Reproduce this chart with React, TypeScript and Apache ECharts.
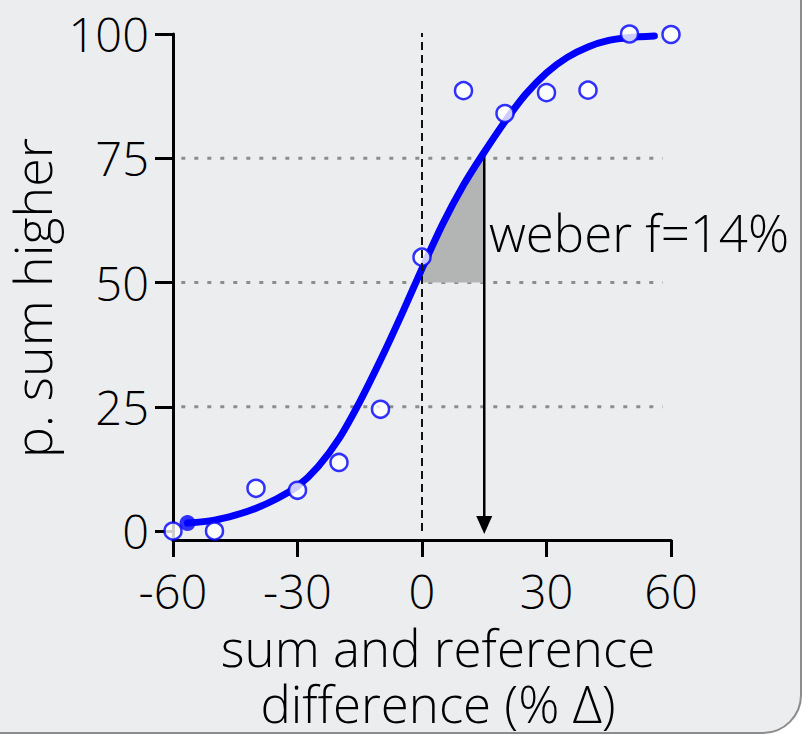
import React, { useEffect, useRef } from "react";
import * as echarts from "echarts";

const FONT = "'Open Sans', 'Liberation Sans', sans-serif";

// observed proportions (open circles)
const obsX = [-60, -50, -40, -30, -20, -10, 0, 10, 20, 30, 40, 50, 60];
const obsY = [0, 0, 8.6, 8.2, 13.8, 24.5, 55.1, 88.6, 84.0, 88.2, 88.7, 100, 99.9];

// fitted psychometric curve
const fitX = [-56.5, -50, -45, -40, -35, -30, -25, -20, -15, -10, -5, 0, 5, 10, 14.5, 20, 25, 30, 35, 40, 45, 50, 56];
const fitY = [1.6, 2.2, 3.2, 4.6, 6.5, 9.0, 13.0, 18.6, 26.0, 34.4, 43.4, 52.8, 61.8, 69.6, 75.6, 82.4, 87.9, 92.2, 95.3, 97.4, 98.7, 99.3, 99.6];

// filled start point
const startPt = [-56.5, 1.6];

// shaded weber triangle
const shadeX = [0, 0, 5, 10, 14.5, 14.8, 14.8];
const shadeY = [50, 52.8, 61.8, 69.6, 75.6, 75.6, 50];

// reference lines
const refLevels = [25, 50, 75];
const refSpan = [-58, 58];
const vRefX = 0;
const vRefSpan = [0, 101.2];

// arrow
const arrowX = 15;
const arrowTop = 75.6;
const arrowHeadY = 1.2;

const xTicks = [-60, -30, 0, 30, 60];
const yTicks = [0, 25, 50, 75, 100];

const weberText = "weber f=14%";
const xName = "sum and reference\ndifference (% \u0394)";
const yName = "p. sum higher";

export default function App() {
  const ref = useRef<HTMLDivElement>(null);
  useEffect(() => {
    const chart = echarts.init(ref.current!, null, { renderer: "svg" });
    const blue = "#0000ff";
    const series: any[] = [];
    refLevels.forEach((l) => {
      series.push({
        type: "line",
        data: [
          [refSpan[0], l],
          [refSpan[1], l],
        ],
        symbol: "none",
        silent: true,
        z: 1,
        lineStyle: { color: "#8d8d8d", width: 3, type: [4, 9] },
      });
    });
    series.push({
      type: "custom",
      data: [[0, 50]],
      silent: true,
      z: 2,
      renderItem: (_p: any, api: any) => ({
        type: "polygon",
        shape: { points: shadeX.map((x, i) => api.coord([x, shadeY[i]])) },
        style: { fill: "#b3b5b5" },
      }),
    });
    series.push({
      type: "line",
      data: [
        { value: [arrowX, arrowTop], symbol: "none" },
        { value: [arrowX, arrowHeadY], symbol: "triangle", symbolSize: [16, 18], symbolRotate: 180 },
      ],
      showSymbol: true,
      silent: true,
      z: 3,
      lineStyle: { color: "#000", width: 2.5 },
      itemStyle: { color: "#000" },
    });
    series.push({
      type: "line",
      data: fitX.map((x, i) => [x, fitY[i]]),
      smooth: 0.3,
      symbol: "none",
      silent: true,
      z: 4,
      lineStyle: { color: blue, width: 7, cap: "round" },
    });
    series.push({
      type: "scatter",
      data: [startPt],
      symbolSize: 16,
      silent: true,
      z: 5,
      itemStyle: { color: blue },
    });
    series.push({
      type: "scatter",
      data: obsX.map((x, i) => [x, obsY[i]]),
      symbolSize: 17,
      clip: false,
      silent: true,
      z: 6,
      itemStyle: { color: "#ffffff", borderColor: blue, borderWidth: 2.5 },
    });
    series.push({
      type: "line",
      data: [
        [vRefX, vRefSpan[0]],
        [vRefX, vRefSpan[1]],
      ],
      symbol: "none",
      silent: true,
      z: 7,
      lineStyle: { color: "#111", width: 2, type: [8, 5] },
    });

    chart.setOption({
      animation: false,
      backgroundColor: "#ffffff",
      textStyle: { fontFamily: FONT },
      graphic: [
        {
          type: "rect",
          z: -10,
          silent: true,
          shape: { x: -40, y: -40, width: 841, height: 773, r: 38 },
          style: { fill: "#ecedef", stroke: "#8c8c8c", lineWidth: 2 },
        },
        {
          type: "text",
          z: 10,
          silent: true,
          x: 489,
          y: 232,
          style: {
            text: weberText,
            fontSize: 51,
            fontFamily: FONT,
            fontWeight: 300,
            fill: "#000",
            verticalAlign: "middle",
            align: "left",
          },
        },
      ],
      grid: { left: 173, right: 131, top: 34, bottom: 194, outerBoundsMode: "none", containLabel: false },
      xAxis: {
        type: "value",
        min: -60,
        max: 60,
        interval: 30,
        name: xName,
        nameLocation: "middle",
        nameGap: 60,
        nameTextStyle: {
          fontSize: 51,
          fontFamily: FONT,
          fontWeight: 300,
          color: "#000",
          lineHeight: 56,
          padding: [0, 0, 0, 32],
        },
        axisLine: { show: true, onZero: false, lineStyle: { color: "#000", width: 3 } },
        axisTick: { show: true, length: 17, lineStyle: { color: "#000", width: 3 }, customValues: xTicks },
        axisLabel: {
          customValues: xTicks,
          fontSize: 47,
          fontFamily: FONT,
          fontWeight: 300,
          color: "#000",
          margin: 38,
          lineHeight: 26,
        },
        splitLine: { show: false },
      },
      yAxis: {
        type: "value",
        min: -1.8,
        max: 100,
        name: yName,
        nameLocation: "middle",
        nameGap: 72,
        nameTextStyle: {
          fontSize: 52,
          fontFamily: FONT,
          fontWeight: 300,
          color: "#000",
          padding: [0, 22, 0, 0],
        },
        axisLine: { show: true, onZero: false, lineStyle: { color: "#000", width: 3 } },
        axisTick: { show: true, length: 18, lineStyle: { color: "#000", width: 3 }, customValues: yTicks },
        axisLabel: {
          customValues: yTicks,
          fontSize: 47,
          fontFamily: FONT,
          fontWeight: 300,
          color: "#000",
          margin: 24,
        },
        splitLine: { show: false },
      },
      series,
    });
    return () => chart.dispose();
  }, []);
  return <div ref={ref} style={{ position: "fixed", left: 0, top: 0, width: 802, height: 734 }} />;
}
